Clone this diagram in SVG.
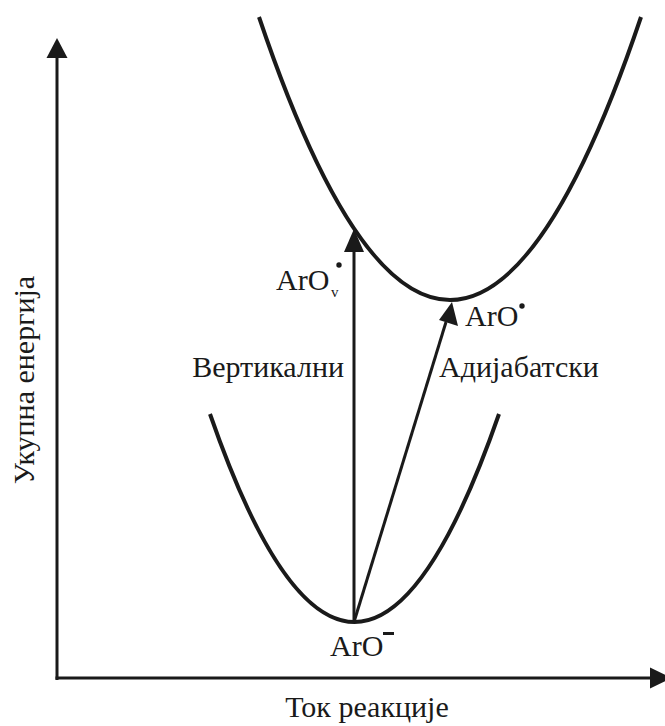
<svg xmlns="http://www.w3.org/2000/svg" width="665" height="726" viewBox="0 0 665 726">
<style>
.c{fill:none;stroke:#1a1a1a;stroke-width:4;stroke-linecap:butt}
.a{fill:none;stroke:#1a1a1a;stroke-width:3}
.t{font-family:"Liberation Serif","Times New Roman",serif;font-size:30px;fill:#1a1a1a}
.h{fill:#1a1a1a}
</style>
<g id="axes">
<line class="a" x1="57" y1="680" x2="57" y2="56"/>
<path class="h" d="M46.5,58 L57,38 L67.5,58 z"/>
<line class="a" x1="55.5" y1="678" x2="652" y2="678"/>
<path class="h" d="M650,667.5 L672,678 L650,688.5 z"/>
</g>
<g id="upper-curve">
<path class="c" d="M259,17 Q450,583 641,17"/>
</g>
<g id="lower-curve">
<path class="c" d="M210,414 Q354.5,830 499,414"/>
</g>
<g id="connectors">
<line class="a" x1="354" y1="622" x2="354" y2="250"/>
<path class="h" d="M344,252 L354,229 L364,252 z"/>
<line class="a" x1="354" y1="622" x2="446" y2="322"/>
<path class="h" d="M439,320 L452,302 L458,326 z"/>
</g>
<g id="labels">
<text class="t" x="276" y="290">ArO</text>
<text class="t" x="331" y="297" style="font-size:15px">v</text>
<circle class="h" cx="339" cy="265" r="2.7"/>
<text class="t" x="465" y="326">ArO</text>
<circle class="h" cx="522" cy="306" r="2.7"/>
<text class="t" x="330" y="656">ArO</text>
<rect class="h" x="383" y="632" width="11" height="3"/>
<text class="t" x="344" y="377" text-anchor="end">Вертикални</text>
<text class="t" x="439" y="377">Адијабатски</text>
<text class="t" x="367" y="717" text-anchor="middle">Ток реакције</text>
<text class="t" transform="translate(34,380) rotate(-90)" text-anchor="middle">Укупна енергија</text>
</g>
</svg>
